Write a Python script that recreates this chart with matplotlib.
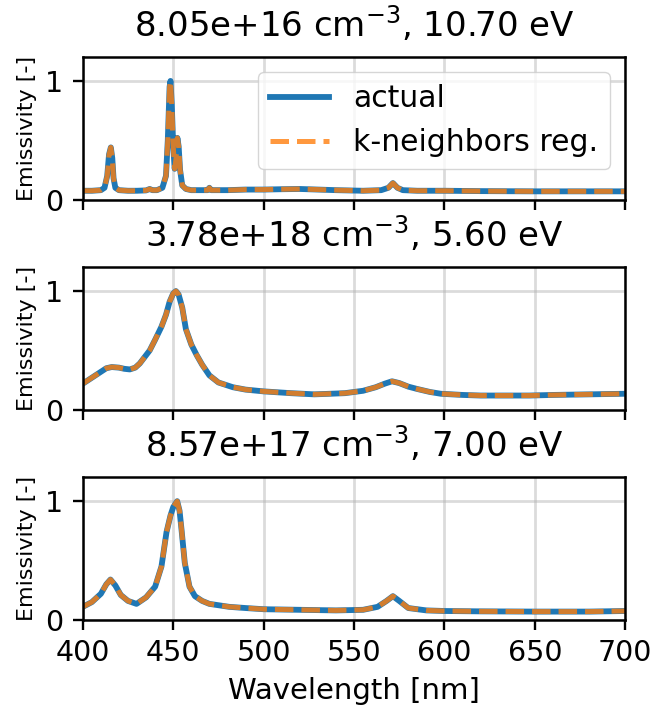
#!/usr/bin/env python3
# emissivity spectra: actual vs k-neighbors prediction, 3 plasma conditions
import matplotlib
matplotlib.use("Agg")
import matplotlib.pyplot as plt

TITLES = ["8.05e+16 cm$^{-3}$, 10.70 eV",
          "3.78e+18 cm$^{-3}$, 5.60 eV",
          "8.57e+17 cm$^{-3}$, 7.00 eV"]

# panel 1
wl_1 = [400, 405, 410, 412, 413.5, 414.5, 415.5, 416.3, 417, 418, 420, 425, 430,
        435, 437, 438.5, 441, 444, 446, 447, 448, 448.5, 449.2, 450, 450.8, 451.6,
        452.3, 453, 453.8, 455, 457, 460, 465, 469, 470, 471, 480, 490, 500, 510,
        520, 530, 540, 555, 565, 569, 571.5, 574, 577, 585, 600, 620, 650, 680, 700]
em_1 = [0.075, 0.075, 0.08, 0.10, 0.20, 0.38, 0.44, 0.35, 0.18, 0.10, 0.08, 0.075, 0.075,
        0.078, 0.09, 0.08, 0.08, 0.10, 0.20, 0.50, 0.95, 1.00, 0.80, 0.45, 0.26, 0.35,
        0.52, 0.45, 0.25, 0.12, 0.09, 0.08, 0.08, 0.08, 0.10, 0.08, 0.08, 0.085, 0.085, 0.088,
        0.09, 0.085, 0.08, 0.075, 0.08, 0.10, 0.14, 0.10, 0.08, 0.075, 0.075, 0.072, 0.07, 0.07, 0.07]

# panel 2
wl_2 = [400, 405, 410, 413, 416, 420, 423, 426, 429, 431.5, 434, 437, 440, 443.5,
        446, 448, 450, 451.5, 453, 455, 457, 460, 463, 466, 470, 475, 483, 490, 500,
        515, 528, 537, 545, 555, 562, 567, 571, 575, 580, 585, 592, 598, 610, 620,
        635, 647, 660, 680, 700]
em_2 = [0.22, 0.27, 0.32, 0.35, 0.36, 0.355, 0.345, 0.34, 0.355, 0.39, 0.44, 0.50, 0.59, 0.70,
        0.80, 0.91, 0.98, 1.00, 0.97, 0.86, 0.68, 0.55, 0.46, 0.38, 0.29, 0.23, 0.19, 0.17, 0.155,
        0.14, 0.13, 0.135, 0.14, 0.16, 0.19, 0.22, 0.24, 0.225, 0.195, 0.175, 0.15, 0.135, 0.125, 0.12,
        0.12, 0.12, 0.125, 0.13, 0.135]

# panel 3
wl_3 = [400, 405, 410, 413, 415.3, 418, 421, 425, 429.7, 435, 440, 443.5, 446.3,
        448.5, 450, 452.2, 453.5, 454.6, 456.4, 459, 462, 466, 470, 481, 490, 500,
        520, 540, 555, 563, 568, 571.5, 575, 580, 590, 600, 620, 650, 680, 700]
em_3 = [0.11, 0.15, 0.22, 0.30, 0.34, 0.29, 0.21, 0.16, 0.135, 0.19, 0.28, 0.45, 0.74,
        0.88, 0.95, 1.00, 0.92, 0.76, 0.48, 0.28, 0.20, 0.16, 0.135, 0.11, 0.10, 0.09,
        0.085, 0.08, 0.085, 0.11, 0.16, 0.20, 0.16, 0.10, 0.08, 0.075, 0.072, 0.07, 0.07, 0.075]

# regression output sits on top of the actual spectra
pred_1 = em_1
pred_2 = em_2
pred_3 = em_3

WL = [wl_1, wl_2, wl_3]
ACT = [em_1, em_2, em_3]
PRED = [pred_1, pred_2, pred_3]

fig, axes = plt.subplots(3, 1, figsize=(6.52, 7.15), dpi=100, sharex=True)
fig.subplots_adjust(left=0.127, right=0.959, top=0.920, bottom=0.133, hspace=0.475)

for i, ax in enumerate(axes):
    ax.plot(WL[i], ACT[i], color="#1f77b4", lw=4.2, label="actual")
    ax.plot(WL[i], PRED[i], color="#ff7f0e", lw=3.6, ls="--", alpha=0.8,
            label="k-neighbors reg.")
    ax.set_title(TITLES[i], fontsize=24.5, pad=15)
    ax.set_xlim(400, 700)
    ax.set_ylim(0, 1.2)
    ax.set_yticks([0, 1])
    ax.set_ylabel("Emissivity [-]", fontsize=16, labelpad=6)
    ax.grid(color="#b0b0b0", alpha=0.45, lw=2)
    ax.tick_params(labelsize=20.5, width=1.7, length=7, pad=7)
    for s in ax.spines.values():
        s.set_linewidth(1.8)

axes[0].legend(loc="upper right", fontsize=21.5)
axes[-1].set_xticks(range(400, 701, 50))
axes[-1].set_xlabel("Wavelength [nm]", fontsize=21, labelpad=7)

fig.savefig("out.png", dpi=100, facecolor="white")
